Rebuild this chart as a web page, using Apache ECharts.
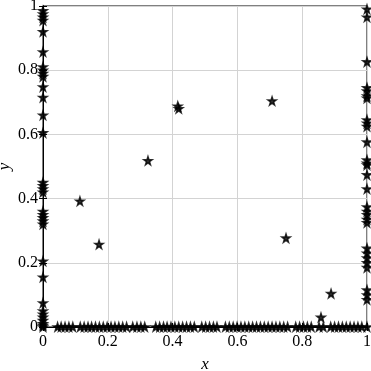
<!DOCTYPE html>
<html><head><meta charset="utf-8">
<script src="https://cdn.jsdelivr.net/npm/echarts@6/dist/echarts.min.js"></script>
<style>html,body{margin:0;padding:0;background:#fff}#c{width:371px;height:371px}</style>
</head><body><div id="c"></div>
<script>
// Data
const leftY = [0.985, 0.975, 0.965, 0.955, 0.92, 0.857, 0.81, 0.80, 0.79, 0.78, 0.748, 0.715, 0.66, 0.605, 0.45, 0.44, 0.43, 0.42, 0.36, 0.35, 0.34, 0.33, 0.32, 0.205, 0.155, 0.075, 0.05, 0.04, 0.03, 0.02, 0.01, 0.005, 0];
const rightY = [0.99, 0.965, 0.826, 0.745, 0.735, 0.72, 0.713, 0.645, 0.635, 0.625, 0.576, 0.52, 0.51, 0.505, 0.474, 0.43, 0.374, 0.36, 0.35, 0.335, 0.325, 0.245, 0.23, 0.215, 0.2, 0.185, 0.115, 0.1, 0.085, 0];
const bottomX = [0.045, 0.056, 0.068, 0.080, 0.092,
  0.115, 0.127, 0.139, 0.15, 0.162, 0.174, 0.186, 0.198, 0.21, 0.222, 0.234, 0.246, 0.258,
  0.277, 0.29, 0.302, 0.314,
  0.348, 0.36, 0.372, 0.383,
  0.395, 0.407, 0.419, 0.431, 0.443, 0.455, 0.467,
  0.49, 0.502, 0.514, 0.526, 0.537,
  0.563, 0.575, 0.587, 0.599, 0.611, 0.623, 0.635, 0.647, 0.659, 0.671, 0.683, 0.695, 0.707, 0.719, 0.731, 0.743, 0.755,
  0.78, 0.792, 0.804, 0.816, 0.828,
  0.852, 0.865,
  0.888, 0.9, 0.912, 0.924, 0.936, 0.948, 0.96, 0.972, 0.984];
const innerX = [0.114, 0.173, 0.324, 0.416, 0.419, 0.707, 0.75, 0.889, 0.858];
const innerY = [0.392, 0.257, 0.518, 0.688, 0.68, 0.704, 0.277, 0.104, 0.03];
const tickLabels = ['0', '0.2', '0.4', '0.6', '0.8', '1'];

const pts = [];
leftY.forEach(y => pts.push([0, y]));
rightY.forEach(y => pts.push([1, y]));
bottomX.forEach(x => pts.push([x, 0]));
innerX.forEach((x, i) => pts.push([x, innerY[i]]));

const fmt = v => { const s = tickLabels[Math.round(v * 5)]; return s === undefined ? '' : s; };
const serif = 'Liberation Serif';
const star = 'path://M50,0 L61.8,35.1 L98.6,35.1 L68.8,57 L79.4,92 L50,71 L20.6,92 L31.2,57 L1.4,35.1 L38.2,35.1 Z';

const chart = echarts.init(document.getElementById('c'), null, {renderer: 'canvas'});
chart.setOption({
  animation: false,
  grid: {left: 43, right: 4, top: 6, bottom: 44, outerBoundsMode: 'none', containLabel: false,
         show: true, borderColor: '#000', borderWidth: 1, backgroundColor: 'transparent'},
  xAxis: [{
    type: 'value', min: 0, max: 1, interval: 0.2,
    name: 'x', nameLocation: 'middle', nameGap: 29, nameMoveOverlap: false,
    nameTextStyle: {fontFamily: serif, fontStyle: 'italic', fontSize: 17, color: '#000'},
    axisLine: {show: true, lineStyle: {color: '#000', width: 1}},
    axisTick: {show: true, inside: true, length: 4, lineStyle: {color: '#000'}},
    axisLabel: {formatter: fmt, fontFamily: serif, fontSize: 16, color: '#000', margin: 7},
    splitLine: {show: true, lineStyle: {color: '#d3d3d3', width: 1}}
  }, {
    type: 'value', min: 0, max: 1, interval: 0.2, position: 'top',
    axisLine: {show: true, lineStyle: {color: '#000'}},
    axisTick: {show: true, inside: true, length: 4, lineStyle: {color: '#000'}},
    axisLabel: {show: false}, splitLine: {show: false}
  }],
  yAxis: [{
    type: 'value', min: 0, max: 1, interval: 0.2,
    name: 'y', nameLocation: 'middle', nameGap: 30, nameMoveOverlap: false,
    nameTextStyle: {fontFamily: serif, fontStyle: 'italic', fontSize: 17, color: '#000'},
    axisLine: {show: true, lineStyle: {color: '#000', width: 1}},
    axisTick: {show: true, inside: true, length: 4, lineStyle: {color: '#000'}},
    axisLabel: {formatter: fmt, fontFamily: serif, fontSize: 16, color: '#000', margin: 5},
    splitLine: {show: true, lineStyle: {color: '#d3d3d3', width: 1}}
  }, {
    type: 'value', min: 0, max: 1, interval: 0.2, position: 'right',
    axisLine: {show: true, lineStyle: {color: '#000'}},
    axisTick: {show: true, inside: true, length: 4, lineStyle: {color: '#000'}},
    axisLabel: {show: false}, splitLine: {show: false}
  }],
  series: [{
    type: 'scatter', data: pts, symbol: star, symbolSize: 8, clip: false,
    itemStyle: {color: '#000', borderColor: '#000', borderWidth: 1.6},
    z: 5
  }]
});
</script></body></html>
